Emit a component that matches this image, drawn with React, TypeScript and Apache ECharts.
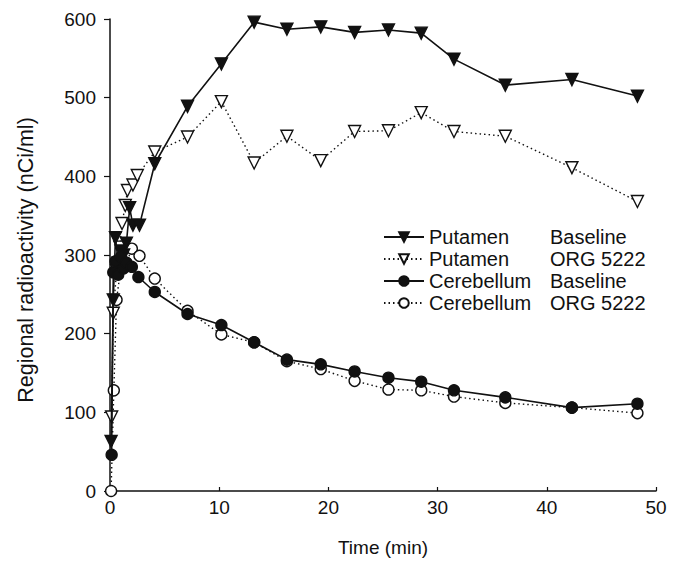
import React, { useEffect, useRef } from "react";
import * as echarts from "echarts";

// ---- Data ----
const seriesNames = ["Putamen Baseline", "Putamen ORG 5222", "Cerebellum Baseline", "Cerebellum ORG 5222"];
const regionLabels = ["Putamen", "Putamen", "Cerebellum", "Cerebellum"];
const conditionLabels = ["Baseline", "ORG 5222", "Baseline", "ORG 5222"];

const xTicks = [0, 10, 20, 30, 40, 50];
const yTicks = [0, 100, 200, 300, 400, 500, 600];

const putamenBaselineTime = [0.1, 0.3, 0.5, 0.75, 1.0, 1.25, 1.5, 1.8, 2.1, 2.7, 4.1, 7.1, 10.2, 13.2, 16.2, 19.3, 22.4, 25.5, 28.5, 31.5, 36.2, 42.3, 48.3];
const putamenBaselineValue = [63, 243, 322, 290, 305, 300, 315, 360, 338, 338, 416, 489, 543, 596, 587, 590, 583, 586, 582, 549, 516, 523, 502];

const putamenOrgTime = [0.15, 0.3, 0.6, 0.9, 1.1, 1.4, 1.6, 2.1, 2.5, 4.1, 7.1, 10.2, 13.2, 16.2, 19.3, 22.4, 25.5, 28.5, 31.5, 36.2, 42.3, 48.3];
const putamenOrgValue = [94, 226, 280, 310, 340, 363, 382, 389, 401, 431, 450, 495, 417, 451, 420, 457, 458, 481, 457, 451, 411, 368];

const cerebellumBaselineTime = [0.15, 0.3, 0.5, 0.75, 1.0, 1.25, 1.5, 2.0, 2.6, 4.1, 7.1, 10.2, 13.2, 16.2, 19.3, 22.4, 25.5, 28.5, 31.5, 36.2, 42.3, 48.3];
const cerebellumBaselineValue = [46, 278, 292, 275, 298, 283, 290, 285, 272, 253, 225, 211, 189, 167, 161, 152, 144, 139, 128, 119, 106, 111];

const cerebellumOrgTime = [0.1, 0.35, 0.6, 1.0, 1.5, 2.0, 2.7, 4.1, 7.1, 10.2, 13.2, 16.2, 19.3, 22.4, 25.5, 28.5, 31.5, 36.2, 42.3, 48.3];
const cerebellumOrgValue = [0, 128, 243, 285, 290, 308, 299, 270, 229, 199, 189, 165, 155, 140, 129, 128, 120, 112, 106, 99];

const zip = (t: number[], v: number[]) => t.map((x, i) => [x, v[i]]);

const FONT = "'Liberation Sans', Arial, Helvetica, sans-serif";
const INK = "#111";

export default function App() {
  const ref = useRef<HTMLDivElement>(null);

  useEffect(() => {
    if (!ref.current) return;
    const chart = echarts.init(ref.current, undefined, { renderer: "svg" });

    const mk = (idx: number, data: number[][], filled: boolean, dotted: boolean, symbol: string, rotate: number, size: number, z: number) => ({
      name: seriesNames[idx],
      type: "line",
      data,
      symbol,
      symbolRotate: rotate,
      symbolSize: size,
      z,
      lineStyle: {
        color: INK,
        width: dotted ? 1.4 : 1.6,
        type: dotted ? [1.5, 3] : "solid",
      },
      itemStyle: {
        color: filled ? INK : "#fff",
        borderColor: INK,
        borderWidth: 1.4,
        opacity: 1,
      },
      emphasis: { disabled: true },
    });

    chart.setOption({
      animation: false,
      backgroundColor: "#fff",
      grid: { left: 110, right: 21, top: 19, bottom: 71 },
      legend: {
        orient: "vertical",
        left: 383,
        top: 227,
        padding: 0,
        itemWidth: 40,
        itemHeight: 12,
        itemGap: 2,
        selectedMode: false,
        data: seriesNames,
        formatter: (name: string) => {
          const i = seriesNames.indexOf(name);
          return `{a|${regionLabels[i]}}{b|${conditionLabels[i]}}`;
        },
        textStyle: {
          fontFamily: FONT,
          fontSize: 20,
          color: INK,
          rich: {
            a: { width: 121, fontFamily: FONT, fontSize: 20, color: INK, lineHeight: 20 },
            b: { fontFamily: FONT, fontSize: 20, color: INK, lineHeight: 20 },
          },
        },
      },
      xAxis: {
        type: "value",
        min: xTicks[0],
        max: xTicks[xTicks.length - 1],
        interval: 10,
        name: "Time (min)",
        nameLocation: "middle",
        nameGap: 47,
        nameTextStyle: { fontFamily: FONT, fontSize: 19, color: INK },
        axisLine: { lineStyle: { color: INK, width: 1.5 } },
        axisTick: { inside: true, length: 4, lineStyle: { color: INK, width: 1.2 } },
        axisLabel: { fontFamily: FONT, fontSize: 19, color: INK, margin: 7 },
        splitLine: { show: false },
      },
      yAxis: {
        type: "value",
        min: yTicks[0],
        max: yTicks[yTicks.length - 1],
        interval: 100,
        offset: 5,
        name: "Regional radioactivity (nCi/ml)",
        nameLocation: "middle",
        nameGap: 68,
        nameTextStyle: { fontFamily: FONT, fontSize: 21.5, color: INK, padding: [0, 10, 0, 0] },
        axisLine: { show: true, lineStyle: { color: INK, width: 1.5 } },
        axisTick: { show: true, inside: false, length: 6, lineStyle: { color: INK, width: 1.2 } },
        axisLabel: { fontFamily: FONT, fontSize: 19, color: INK, margin: 9 },
        splitLine: { show: false },
      },
      series: [
        mk(1, zip(putamenOrgTime, putamenOrgValue), false, true, "triangle", 180, 12, 2),
        mk(0, zip(putamenBaselineTime, putamenBaselineValue), true, false, "triangle", 180, 12, 3),
        mk(3, zip(cerebellumOrgTime, cerebellumOrgValue), false, true, "circle", 0, 11, 2),
        mk(2, zip(cerebellumBaselineTime, cerebellumBaselineValue), true, false, "circle", 0, 11, 3),
      ],
    });

    return () => chart.dispose();
  }, []);

  return (
    <div
      ref={ref}
      style={{ position: "absolute", left: 0, top: 0, width: 677, height: 562, background: "#fff" }}
    />
  );
}
